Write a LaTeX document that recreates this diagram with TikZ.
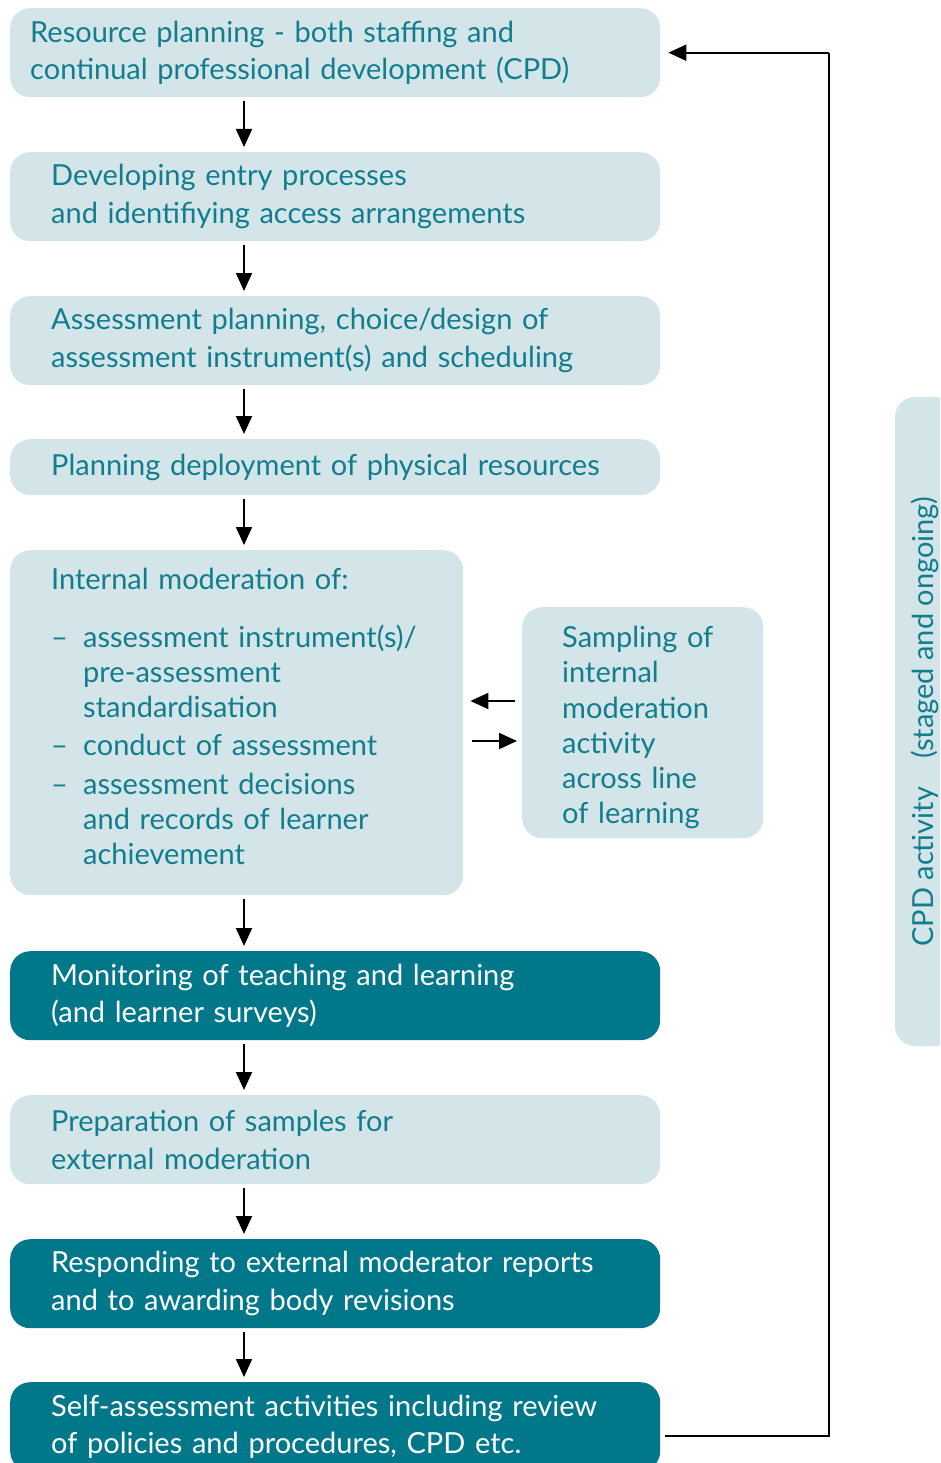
\documentclass[tikz,border=0pt]{standalone}
\usepackage{fontspec}
\setmainfont{Lato}
\usetikzlibrary{arrows.meta}
\definecolor{lightbox}{HTML}{D3E5E9}
\definecolor{darkbox}{HTML}{00788A}
\definecolor{tealtext}{HTML}{127E8D}
\begin{document}
\begin{tikzpicture}[x=1pt,y=-1pt,
  lbox/.style={fill=lightbox, rounded corners=20pt, text=tealtext, anchor=north west, align=left,
    font=\fontsize{29}{37.5}\selectfont, inner sep=0pt},
  dbox/.style={lbox, fill=darkbox, text=white},
  wide/.style={minimum width=650pt, minimum height=89pt, text width=568pt},
  arr/.style={-{Triangle[length=18pt,width=16pt]}, line width=2pt, black},
]
\useasboundingbox (0,0) rectangle (940,1463);
\clip (0,0) rectangle (940,1463);

\node[lbox, minimum width=650pt, minimum height=89pt, text width=610pt] (b1) at (10,8)
  {Resource planning - both staffing and\\continual professional development (CPD)};
\node[lbox, wide] (b2) at (10,152)
  {Developing entry processes\\and identifiying access arrangements};
\node[lbox, wide] (b3) at (10,296)
  {Assessment planning, choice/design of\\assessment instrument(s) and scheduling};
\node[lbox, wide, minimum height=56pt] (b4) at (10,439)
  {Planning deployment of physical resources};
\node[lbox, minimum width=453pt, minimum height=345pt, text width=371pt,
  font=\fontsize{29}{35.3}\selectfont] (b5) at (10,550)
  {\parbox{371pt}{\raggedright
   Internal moderation of:\\[22pt]
   \makebox[32pt][l]{–}assessment instrument(s)/\\
   \hspace*{32pt}pre-assessment\\
   \hspace*{32pt}standardisation\\[3pt]
   \makebox[32pt][l]{–}conduct of assessment\\[3pt]
   \makebox[32pt][l]{–}assessment decisions\\
   \hspace*{32pt}and records of learner\\
   \hspace*{32pt}achievement\par\vspace*{12pt}}};
\node[lbox, minimum width=241pt, minimum height=231pt, text width=161pt,
  font=\fontsize{29}{35.3}\selectfont] (samp) at (522,607)
  {\parbox{161pt}{\raggedright\vspace*{10pt}
   Sampling of\\internal\\moderation\\activity\\across line\\of learning}};
\node[dbox, wide] (b6) at (10,951)
  {Monitoring of teaching and learning\\(and learner surveys)};
\node[lbox, wide] (b7) at (10,1095)
  {Preparation of samples for\\external moderation};
\node[dbox, wide] (b8) at (10,1239)
  {Responding to external moderator reports\\and to awarding body revisions};
\node[dbox, wide] (b9) at (10,1382)
  {Self-assessment activities including review\\of policies and procedures, CPD etc.};

\node[lbox, anchor=center, rotate=90, minimum width=649pt, minimum height=60pt] (cpd) at (925,721.5)
  {CPD activity\hspace{28pt}(staged and ongoing)};

\coordinate (ax) at (244,0);
\foreach \a/\b in {b1/b2,b2/b3,b3/b4,b4/b5,b5/b6,b6/b7,b7/b8,b8/b9}
  \draw[arr, shorten <=4pt, shorten >=5pt] (\a.south -| ax) -- (\b.north -| ax);

\coordinate (yl) at (0,701);
\coordinate (yr) at (0,741);
\draw[arr, shorten <=7pt, shorten >=7pt] (samp.west |- yl) -- (b5.east |- yl);
\draw[arr, shorten <=9pt, shorten >=5pt] (b5.east |- yr) -- (samp.west |- yr);

\coordinate (fb) at (829,0);
\coordinate (yfb) at (0,1436);
\draw[line width=2pt] ([xshift=5pt]b9.east |- yfb) -- (fb |- yfb) -- (fb |- b1.east);
\draw[arr, shorten >=8pt] (fb |- b1.east) -- (b1.east);
\end{tikzpicture}
\end{document}
